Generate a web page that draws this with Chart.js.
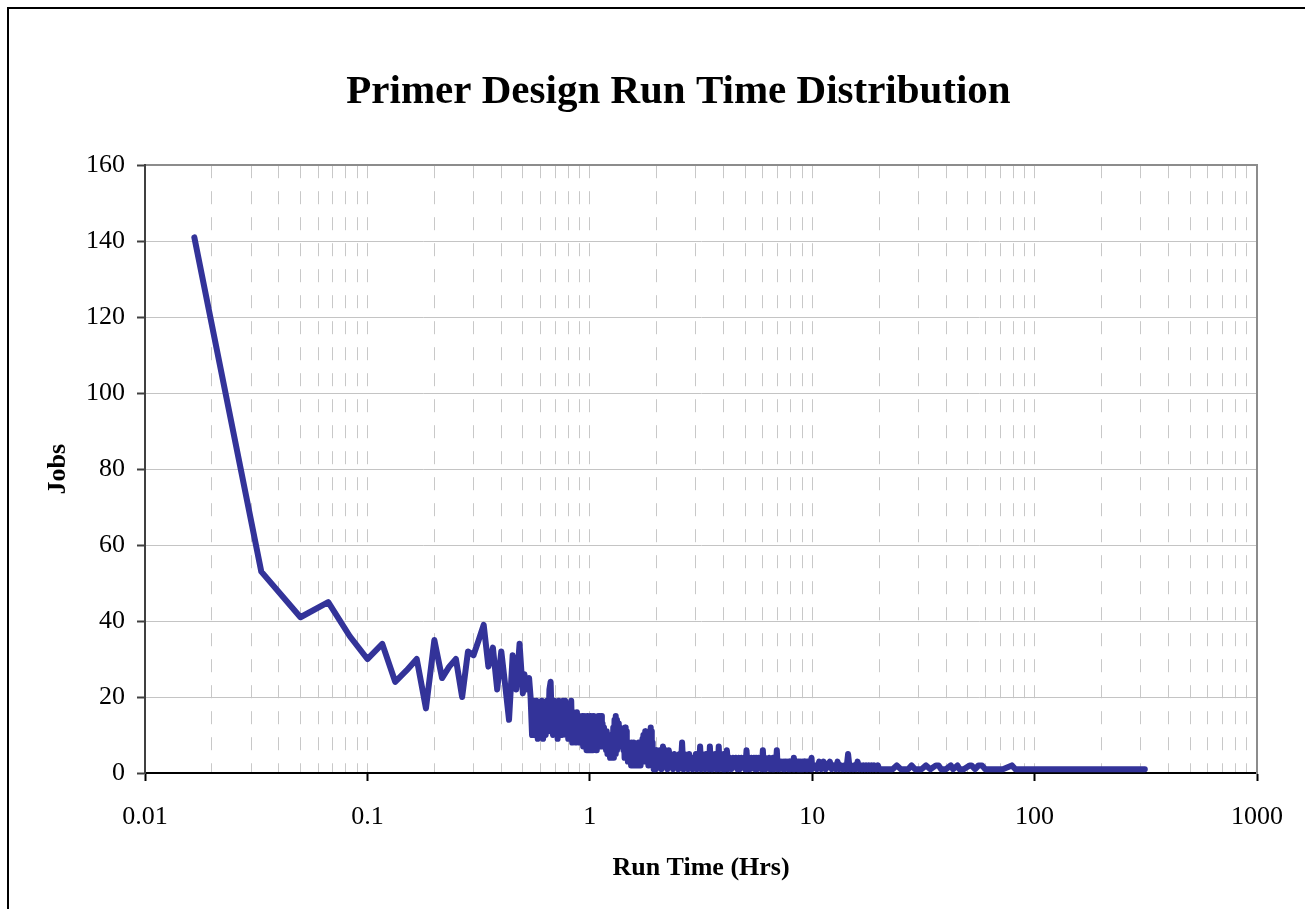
<!DOCTYPE html>
<html>
<head>
<meta charset="utf-8">
<title>Primer Design Run Time Distribution</title>
<script src="https://cdn.jsdelivr.net/npm/chart.js@4.4.1/dist/chart.umd.min.js"></script>
<style>
  html, body { margin: 0; padding: 0; background: #fff; overflow: hidden; }
  #frame { position: absolute; left: 7px; top: 7px; width: 1400px; height: 1000px; border: 2px solid #000; }
  #wrap { position: absolute; left: 0; top: 0; width: 1357px; height: 909px; }
</style>
</head>
<body>
<div id="frame"></div>
<div id="wrap"><canvas id="runTimeChart"></canvas></div>
<script>
// run time bins in minutes (plotted in hours) and number of jobs per bin
const firstMinutes = [
  1, 2, 3, 4, 5, 6, 7, 8, 9, 10, 11, 12, 13, 14, 15, 16, 17, 18, 19, 20,
  21, 22, 23, 24, 25, 26, 27, 28, 29
];
const firstJobs = [
  141, 53, 41, 45, 36, 30, 34, 24, 27, 30, 17, 35, 25, 28, 30, 20, 32, 31, 35, 39,
  28, 33, 22, 32, 23, 14, 31, 22, 34
];

const halfHourMinutes = [
  30, 30.5, 31, 31.5, 32, 32.5, 33, 33.5, 34, 34.5,
  35, 35.5, 36, 36.5, 37, 37.5, 38, 38.5, 39, 39.5,
  40, 40.5, 41, 41.5, 42, 42.5, 43, 43.5, 44, 44.5,
  45, 45.5, 46, 46.5, 47, 47.5, 48, 48.5, 49, 49.5,
  50, 50.5, 51, 51.5, 52, 52.5, 53, 53.5, 54, 54.5,
  55, 55.5, 56, 56.5, 57, 57.5, 58, 58.5, 59, 59.5,
  60, 60.5, 61, 61.5, 62, 62.5, 63, 63.5, 64, 64.5,
  65, 65.5, 66, 66.5, 67, 67.5, 68, 68.5, 69, 69.5,
  70, 70.5, 71, 71.5, 72, 72.5, 73, 73.5, 74, 74.5,
  75, 75.5, 76, 76.5, 77, 77.5, 78, 78.5, 79, 79.5,
  80, 80.5, 81, 81.5, 82, 82.5, 83, 83.5, 84, 84.5,
  85, 85.5, 86, 86.5, 87, 87.5, 88, 88.5, 89, 89.5,
  90, 90.5, 91, 91.5, 92, 92.5, 93, 93.5, 94, 94.5,
  95, 95.5, 96, 96.5, 97, 97.5, 98, 98.5, 99, 99.5,
  100, 100.5, 101, 101.5, 102, 102.5, 103, 103.5, 104, 104.5,
  105, 105.5, 106, 106.5, 107, 107.5, 108, 108.5, 109, 109.5,
  110, 110.5, 111, 111.5, 112, 112.5, 113, 113.5, 114, 114.5,
  115, 115.5, 116, 116.5, 117, 117.5, 118, 118.5, 119, 119.5,
  120
];
const halfHourJobs = [
  21, 26, 22, 24, 25, 20, 10, 19, 10, 19,
  9, 18, 10, 19, 9, 18, 10, 19, 11, 22,
  24, 12, 10, 19, 11, 18, 9, 19, 10, 18,
  10, 19, 11, 19, 10, 17, 9, 18, 10, 19,
  8, 16, 9, 15, 8, 16, 9, 15, 8, 14,
  8, 15, 7, 15, 8, 14, 6, 15, 6, 14,
  7, 15, 6, 14, 6, 15, 7, 13, 6, 14,
  7, 15, 7, 14, 8, 15, 7, 13, 7, 12,
  8, 11, 6, 11, 5, 10, 5, 9, 4, 9,
  4, 10, 5, 12, 4, 14, 5, 15, 6, 14,
  7, 13, 7, 12, 7, 11, 7, 10, 8, 9,
  6, 10, 4, 12, 5, 11, 4, 8, 3, 8,
  3, 8, 3, 7, 2, 8, 2, 7, 3, 8,
  2, 6, 3, 7, 2, 6, 2, 7, 3, 8,
  3, 7, 2, 6, 3, 8, 3, 9, 4, 10,
  4, 9, 3, 11, 4, 10, 3, 9, 3, 8,
  2, 9, 3, 11, 4, 12, 3, 11, 2, 8,
  2, 6, 1, 5, 1, 6, 2, 5, 1, 6,
  2
];

const twoHourMinutes = [
  122, 124, 126, 128, 130, 132, 134, 136, 138, 140,
  142, 144, 146, 148, 150, 152, 154, 156, 158, 160,
  162, 164, 166, 168, 170, 172, 174, 176, 178, 180,
  182, 184, 186, 188, 190, 192, 194, 196, 198, 200,
  202, 204, 206, 208, 210, 212, 214, 216, 218, 220,
  222, 224, 226, 228, 230, 232, 234, 236, 238, 240
];
const twoHourJobs = [
  2, 6, 1, 7, 2, 6, 1, 6, 2, 4,
  1, 5, 2, 4, 1, 5, 2, 8, 1, 5,
  2, 4, 1, 5, 2, 4, 1, 4, 2, 5,
  1, 4, 2, 7, 1, 5, 2, 4, 1, 5,
  2, 4, 1, 7, 2, 5, 1, 4, 2, 5,
  1, 4, 2, 7, 1, 5, 2, 4, 1, 5
];

const tenHourMinutes = [
  244, 248, 252, 256, 260, 264, 268, 272, 276, 280,
  284, 288, 292, 296, 300, 304, 308, 312, 316, 320,
  324, 328, 332, 336, 340, 344, 348, 352, 356, 360,
  364, 368, 372, 376, 380, 384, 388, 392, 396, 400,
  404, 408, 412, 416, 420, 424, 428, 432, 436, 440,
  444, 448, 452, 456, 460, 464, 468, 472, 476, 480,
  484, 488, 492, 496, 500, 504, 508, 512, 516, 520,
  524, 528, 532, 536, 540, 544, 548, 552, 556, 560,
  564, 568, 572, 576, 580, 584, 588, 592, 596, 600
];
const tenHourJobs = [
  1, 6, 1, 4, 1, 4, 2, 4, 1, 4,
  1, 4, 2, 4, 1, 6, 1, 4, 1, 4,
  2, 4, 1, 4, 1, 4, 2, 4, 1, 6,
  1, 4, 1, 3, 2, 4, 1, 3, 1, 4,
  1, 3, 2, 6, 1, 3, 1, 3, 2, 3,
  1, 3, 1, 3, 2, 3, 1, 3, 1, 3,
  2, 3, 1, 4, 1, 3, 2, 3, 1, 3,
  1, 3, 2, 3, 1, 3, 1, 3, 2, 3,
  1, 3, 1, 3, 2, 3, 1, 3, 4, 1
];

const dayMinutes = [
  615, 630, 645, 660, 675, 690, 705, 720, 735, 750, 765, 780, 795, 810, 825, 840, 855, 870, 885, 900,
  915, 930, 945, 960, 975, 990, 1005, 1020, 1035, 1050, 1065, 1080, 1095, 1110, 1125, 1140, 1155, 1170, 1185, 1200
];
const dayJobs = [
  2, 1, 3, 1, 3, 1, 2, 3, 1, 2, 1, 3, 1, 2, 1, 2, 1, 5, 1, 2,
  1, 2, 1, 3, 1, 2, 1, 2, 1, 2, 1, 2, 1, 2, 1, 2, 1, 1, 2, 1
];

const tailMinutes = [
  1260, 1380, 1440, 1500, 1620, 1680, 1740, 1860, 1950, 2040, 2160, 2220, 2280, 2400, 2520, 2580, 2700, 2760,
  2880, 3060, 3120, 3240, 3360, 3480, 3600, 3900, 4320, 4740, 4920, 5700, 7200, 9000, 12000, 15600, 18780
];
const tailJobs = [
  1, 1, 2, 1, 1, 2, 1, 1, 2, 1, 2, 2, 1, 1, 2, 1, 2, 1,
  1, 2, 2, 1, 2, 2, 1, 1, 1, 2, 1, 1, 1, 1, 1, 1, 1
];

const xDecades = [0.01, 0.1, 1, 10, 100, 1000];
const xTickLabels = ['0.01', '0.1', '1', '10', '100', '1000'];
const yTickValues = [0, 20, 40, 60, 80, 100, 120, 140, 160];

const serif = "'Liberation Serif', 'Times New Roman', serif";

const allMinutes = firstMinutes.concat(halfHourMinutes, twoHourMinutes, tenHourMinutes, dayMinutes, tailMinutes);
const allJobs = firstJobs.concat(halfHourJobs, twoHourJobs, tenHourJobs, dayJobs, tailJobs);
const points = allMinutes.map((m, i) => ({ x: m / 60, y: allJobs[i] }));

function decadeIndex(v) {
  for (let i = 0; i < xDecades.length; i++) {
    if (Math.abs(Math.log10(v) - Math.log10(xDecades[i])) < 1e-6) return i;
  }
  return -1;
}

const ctx = document.getElementById('runTimeChart').getContext('2d');
new Chart(ctx, {
  type: 'line',
  data: {
    datasets: [{
      label: 'Jobs',
      data: points,
      borderColor: '#333399',
      backgroundColor: '#333399',
      borderWidth: 6,
      borderJoinStyle: 'round',
      borderCapStyle: 'round',
      pointRadius: 0,
      tension: 0,
      fill: false
    }]
  },
  options: {
    responsive: true,
    maintainAspectRatio: false,
    animation: false,
    parsing: false,
    layout: { padding: 0 },
    plugins: {
      legend: { display: false },
      tooltip: { enabled: false },
      title: {
        display: true,
        text: 'Primer Design Run Time Distribution',
        color: '#000',
        font: { family: serif, size: 41, weight: 'bold' },
        padding: { top: 68, bottom: 48 }
      }
    },
    scales: {
      x: {
        type: 'logarithmic',
        position: 'bottom',
        min: 0.01,
        max: 1000,
        afterBuildTicks: (scale) => {
          const ticks = [];
          for (let i = 0; i < xDecades.length - 1; i++) {
            for (let k = 1; k <= 9; k++) {
              ticks.push({ value: Number((xDecades[i] * k).toPrecision(6)) });
            }
          }
          ticks.push({ value: xDecades[xDecades.length - 1] });
          scale.ticks = ticks;
        },
        afterFit: (scale) => { scale.height = 136; },
        ticks: {
          autoSkip: false,
          maxRotation: 0,
          padding: 21,
          color: '#000',
          font: { family: serif, size: 26 },
          callback: (v) => {
            const i = decadeIndex(v);
            return i >= 0 ? xTickLabels[i] : '';
          }
        },
        grid: {
          color: '#c8c8c8',
          lineWidth: 1,
          tickLength: 8,
          tickWidth: 2,
          tickColor: (c) => (c.tick && decadeIndex(c.tick.value) >= 0 ? '#000' : 'rgba(0,0,0,0)')
        },
        border: { color: '#000', width: 2, dash: [13, 13] },
        title: {
          display: true,
          text: 'Run Time (Hrs)',
          color: '#000',
          font: { family: serif, size: 26, weight: 'bold' },
          padding: { top: 0, bottom: 25 }
        }
      },
      x2: {
        type: 'logarithmic',
        position: 'top',
        min: 0.01,
        max: 1000,
        afterFit: (scale) => { scale.height = 0; },
        ticks: { display: false },
        grid: { display: false, drawTicks: false },
        border: { color: '#8c8c8c', width: 2 }
      },
      y: {
        min: 0,
        max: 160,
        afterBuildTicks: (scale) => {
          scale.ticks = yTickValues.map(v => ({ value: v }));
        },
        afterFit: (scale) => { scale.width = 145; },
        ticks: {
          padding: 12,
          color: '#000',
          font: { family: serif, size: 26 }
        },
        grid: {
          color: '#c4c4c4',
          lineWidth: 1,
          tickLength: 8,
          tickWidth: 2,
          tickColor: '#404040'
        },
        border: { color: '#404040', width: 2 },
        title: {
          display: true,
          text: 'Jobs',
          color: '#000',
          font: { family: serif, size: 26, weight: 'bold' },
          padding: { top: 43, bottom: 0 }
        }
      },
      y2: {
        position: 'right',
        min: 0,
        max: 160,
        afterFit: (scale) => { scale.width = 100; },
        ticks: { display: false },
        grid: { display: false, drawTicks: false },
        border: { color: '#8c8c8c', width: 2 }
      }
    }
  }
});
</script>
</body>
</html>
